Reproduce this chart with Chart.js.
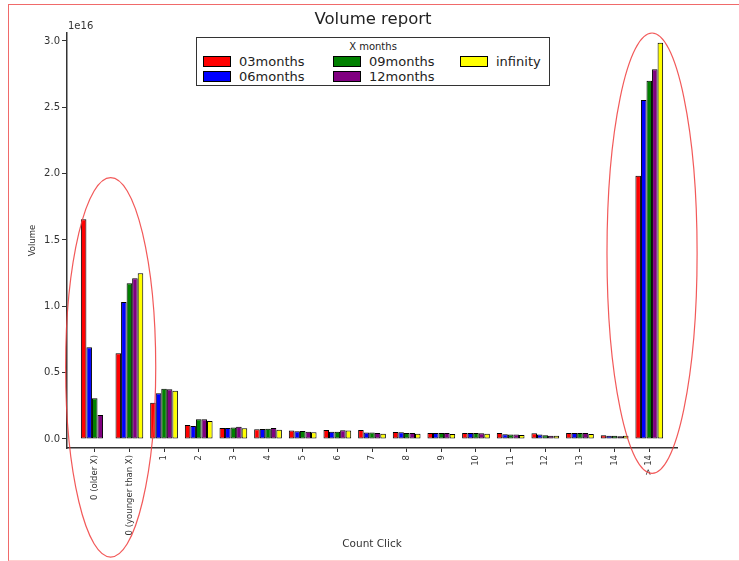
<!DOCTYPE html>
<html>
<head>
<meta charset="utf-8">
<script src="https://cdn.jsdelivr.net/npm/chart.js@4.4.1/dist/chart.umd.min.js"></script>
<style>
  html, body { margin: 0; padding: 0; background: #fff; overflow: hidden; }
  #wrap { position: relative; width: 739px; height: 561px; overflow: hidden; }
  #frame { position: absolute; left: 8px; top: 4px; width: 800px; height: 555px;
    border-top: 1px solid #f06a6a; border-left: 1px solid #f06a6a; border-bottom: 2px solid #ffd0d0; }
  #legend { position: absolute; left: 196px; top: 37px; width: 352px; height: 47px;
    border: 1.5px solid #333; background: #fff; font-family: "DejaVu Sans", sans-serif; color: #222; }
  #legend .ttl { position: absolute; left: 0; right: 0; top: 3px; text-align: center; font-size: 10px; }
  #legend .item { position: absolute; font-size: 13px; line-height: 14px; white-space: nowrap; }
  #legend .sw { display: inline-block; width: 26px; height: 9px; border: 1px solid #000;
    vertical-align: -1px; margin-right: 8px; }
</style>
</head>
<body>
<div id="wrap">
  <div id="frame"></div>
  <canvas id="chart" width="739" height="561"></canvas>
  <div id="legend"><div class="ttl">X months</div></div>
</div>
<script>
// categorias del eje X
const categories = ['0 (older X)', '0 (younger than X)', '1', '2', '3', '4', '5', '6', '7',
  '8', '9', '10', '11', '12', '13', '14', '> 14'];

// valores en unidades de 1e16
const m03 = [1.656, 0.646, 0.274, 0.106, 0.083, 0.073, 0.063, 0.068, 0.068, 0.052, 0.045, 0.045, 0.045, 0.043, 0.045, 0.028, 1.984];
const m06 = [0.691, 1.032, 0.344, 0.098, 0.083, 0.076, 0.058, 0.055, 0.048, 0.050, 0.045, 0.045, 0.035, 0.033, 0.045, 0.025, 2.555];
const m09 = [0.307, 1.173, 0.379, 0.148, 0.086, 0.078, 0.060, 0.055, 0.048, 0.045, 0.045, 0.045, 0.033, 0.028, 0.045, 0.025, 2.700];
const m12 = [0.181, 1.211, 0.374, 0.148, 0.093, 0.083, 0.055, 0.065, 0.045, 0.045, 0.045, 0.043, 0.033, 0.025, 0.045, 0.020, 2.786];
const infinity = [0.0, 1.249, 0.364, 0.135, 0.080, 0.070, 0.050, 0.063, 0.040, 0.040, 0.038, 0.040, 0.030, 0.025, 0.038, 0.025, 2.987];

const seriesNames = ['03months', '06months', '09months', '12months', 'infinity'];
const seriesColors = ['#ff0000', '#0000ff', '#008000', '#800080', '#ffff00'];
const yTicks = [0, 0.5, 1.0, 1.5, 2.0, 2.5, 3.0];
const UNIT = 1e16;

const allSeries = [m03, m06, m09, m12, infinity];

// leyenda en columnas (como matplotlib, ncol=3)
const legendPos = [[6, 17], [6, 32], [136, 17], [136, 32], [263, 17]];
const legendEl = document.getElementById('legend');
seriesNames.forEach((name, i) => {
  const d = document.createElement('div');
  d.className = 'item';
  d.style.left = legendPos[i][0] + 'px';
  d.style.top = legendPos[i][1] + 'px';
  d.innerHTML = '<span class="sw" style="background:' + seriesColors[i] + '"></span>' + name;
  legendEl.appendChild(d);
});

// titulo, multiplicador y elipses rojas
const extrasPlugin = {
  id: 'extras',
  afterDraw(chart) {
    const ctx = chart.ctx;
    const x = chart.scales.x, y = chart.scales.y;
    const marks = [[0.46, 0.54, 1.3, 1.43], [16.08, 1.40, 1.3, 1.66]];
    ctx.save();
    ctx.strokeStyle = 'rgba(240,60,60,0.85)';
    ctx.lineWidth = 1.2;
    marks.forEach(m => {
      const cx = x.getPixelForValue(m[0]);
      const cy = y.getPixelForValue(m[1] * UNIT);
      const rx = x.getPixelForValue(m[0] + m[2]) - cx;
      const ry = cy - y.getPixelForValue((m[1] + m[3]) * UNIT);
      ctx.beginPath();
      ctx.ellipse(cx, cy, rx, ry, 0, 0, Math.PI * 2);
      ctx.stroke();
    });
    ctx.fillStyle = '#333';
    ctx.font = '10px "DejaVu Sans"';
    ctx.textBaseline = 'middle';
    ctx.textAlign = 'left';
    ctx.fillText('1e16', chart.chartArea.left + 1, chart.chartArea.top - 7);
    ctx.fillStyle = '#222';
    ctx.font = '16.5px "DejaVu Sans"';
    ctx.textAlign = 'center';
    ctx.fillText('Volume report', 373, 20);
    ctx.restore();
  }
};

const ctx = document.getElementById('chart').getContext('2d');
const chart = new Chart(ctx, {
  type: 'bar',
  data: {
    datasets: allSeries.map((vals, i) => ({
      label: seriesNames[i],
      data: vals.map((v, j) => ({ x: j, y: v * UNIT })),
      backgroundColor: seriesColors[i],
      borderColor: '#000',
      borderWidth: 1,
      borderSkipped: false,
      categoryPercentage: 0.8,
      barPercentage: 1.0
    }))
  },
  options: {
    responsive: false,
    animation: false,
    layout: { padding: { left: 0, right: 62, top: 33, bottom: 0 } },
    plugins: {
      legend: { display: false },
      tooltip: { enabled: false },
      title: { display: false }
    },
    scales: {
      x: {
        type: 'linear',
        offset: false,
        min: -0.8,
        max: 16.8,
        afterBuildTicks: s => { s.ticks = categories.map((c, i) => ({ value: i })); },
        afterFit: s => { s.height = 113; },
        ticks: {
          autoSkip: false,
          minRotation: 90,
          maxRotation: 90,
          padding: 3,
          color: '#333',
          font: { family: 'DejaVu Sans', size: 8.5 },
          callback: v => categories[v]
        },
        grid: { drawOnChartArea: false, tickLength: 4, color: '#333', offset: false },
        border: { color: '#333', width: 1.5 },
        title: {
          display: true,
          text: 'Count Click',
          color: '#333',
          font: { family: 'DejaVu Sans', size: 10.5 },
          padding: { top: 0, bottom: 10 }
        }
      },
      y: {
        min: -0.068 * UNIT,
        max: 3.06 * UNIT,
        afterBuildTicks: s => { s.ticks = yTicks.map(v => ({ value: v * UNIT })); },
        afterFit: s => { s.width = 67; },
        ticks: {
          padding: 2,
          color: '#333',
          font: { family: 'DejaVu Sans', size: 10 },
          callback: v => (v / UNIT).toFixed(1)
        },
        grid: { drawOnChartArea: false, tickLength: 5, color: '#333' },
        border: { color: '#333', width: 1.5 },
        title: {
          display: true,
          text: 'Volume',
          color: '#333',
          font: { family: 'DejaVu Sans', size: 8.5 },
          padding: { top: 28, bottom: 0 }
        }
      }
    }
  },
  plugins: [extrasPlugin]
});
</script>
</body>
</html>
